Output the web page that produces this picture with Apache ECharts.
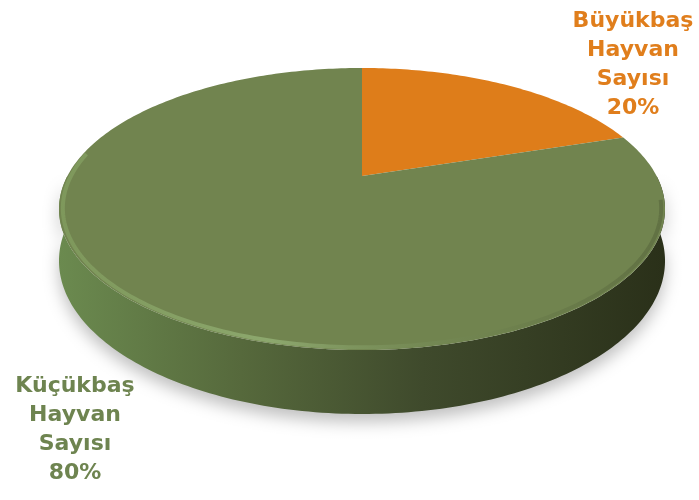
<!DOCTYPE html>
<html>
<head>
<meta charset="utf-8">
<script src="https://cdn.jsdelivr.net/npm/echarts@6/dist/echarts.min.js"></script>
<style>
  html, body { margin: 0; padding: 0; background: #fff; }
  #chart { width: 699px; height: 500px; }
</style>
</head>
<body>
<div id="chart"></div>
<script>
// data
const names = ['Büyükbaş Hayvan Sayısı', 'Küçükbaş Hayvan Sayısı'];
const values = [20, 80];
const topColors = ['#DE7D1A', '#71844F'];
const labelColors = ['#E07E1C', '#6E8450'];

// 3d pie geometry (perspective)
const CX = 362, CY = 176;
const A = 294.6, B = 133.3, K = 0.234, H = 49;
const labelPos = [[633, 7], [75, 372]];

const total = values.reduce((s, v) => s + v, 0);

function proj(deg, drop, s) {
  const t = deg * Math.PI / 180;
  const r = s || 1;
  const u = r * Math.sin(t), v = r * Math.cos(t);
  const w = 1 + K * v;
  return [CX + A * u / w, CY - B * v / w + (drop || 0) / w];
}

function arc(a, b, drop, s) {
  const pts = [];
  const n = Math.max(2, Math.ceil(Math.abs(b - a)));
  for (let i = 0; i <= n; i++) pts.push(proj(a + (b - a) * i / n, drop, s));
  return pts;
}

function renderItem(params, api) {
  const idx = params.dataIndex;
  let start = 0;
  for (let i = 0; i < idx; i++) start += values[i];
  const a = start / total * 360;
  const b = (start + api.value(0)) / total * 360;
  const children = [];

  // side wall (front half only)
  const sa = Math.max(a, 90), sb = Math.min(b, 270);
  if (sb > sa) {
    const side = arc(sa, sb, 0).concat(arc(sa, sb, H).reverse());
    children.push({
      type: 'polygon',
      shape: { points: side },
      style: {
        fill: new echarts.graphic.LinearGradient(0, 0, 1, 0, [
          { offset: 0, color: '#6b8a4f' },
          { offset: 0.3, color: '#56693c' },
          { offset: 0.6, color: '#3f4a2c' },
          { offset: 1, color: '#2a3019' }
        ]),
        shadowBlur: 16,
        shadowOffsetY: 8,
        shadowColor: 'rgba(0,0,0,0.25)'
      }
    });
  }

  // top face
  children.push({
    type: 'polygon',
    shape: { points: [[CX, CY]].concat(arc(a, b, 0)) },
    style: { fill: topColors[idx] }
  });

  // rim bevel
  if (sb > sa) {
    children.push({
      type: 'polyline',
      shape: { points: arc(Math.max(a, 100), Math.min(b, 280), 0, 0.988) },
      style: {
        fill: null,
        lineWidth: 4,
        stroke: new echarts.graphic.LinearGradient(0, 0, 1, 0, [
          { offset: 0, color: 'rgba(135,165,100,0.6)' },
          { offset: 0.35, color: 'rgba(150,180,120,0.75)' },
          { offset: 0.7, color: 'rgba(110,130,80,0.3)' },
          { offset: 1, color: 'rgba(60,70,40,0.3)' }
        ])
      }
    });
  }

  // label
  const pct = Math.round(api.value(0) / total * 100) + '%';
  children.push({
    type: 'text',
    x: labelPos[idx][0],
    y: labelPos[idx][1],
    style: {
      text: names[idx].split(' ').concat(pct).join('\n'),
      fill: labelColors[idx],
      font: 'bold 22px "DejaVu Sans"',
      lineHeight: 29,
      align: 'center',
      verticalAlign: 'top'
    }
  });

  return { type: 'group', children: children };
}

const chart = echarts.init(document.getElementById('chart'));
chart.setOption({
  backgroundColor: '#ffffff',
  animation: false,
  series: [{
    type: 'custom',
    coordinateSystem: 'none',
    renderItem: renderItem,
    data: values
  }]
});
</script>
</body>
</html>
